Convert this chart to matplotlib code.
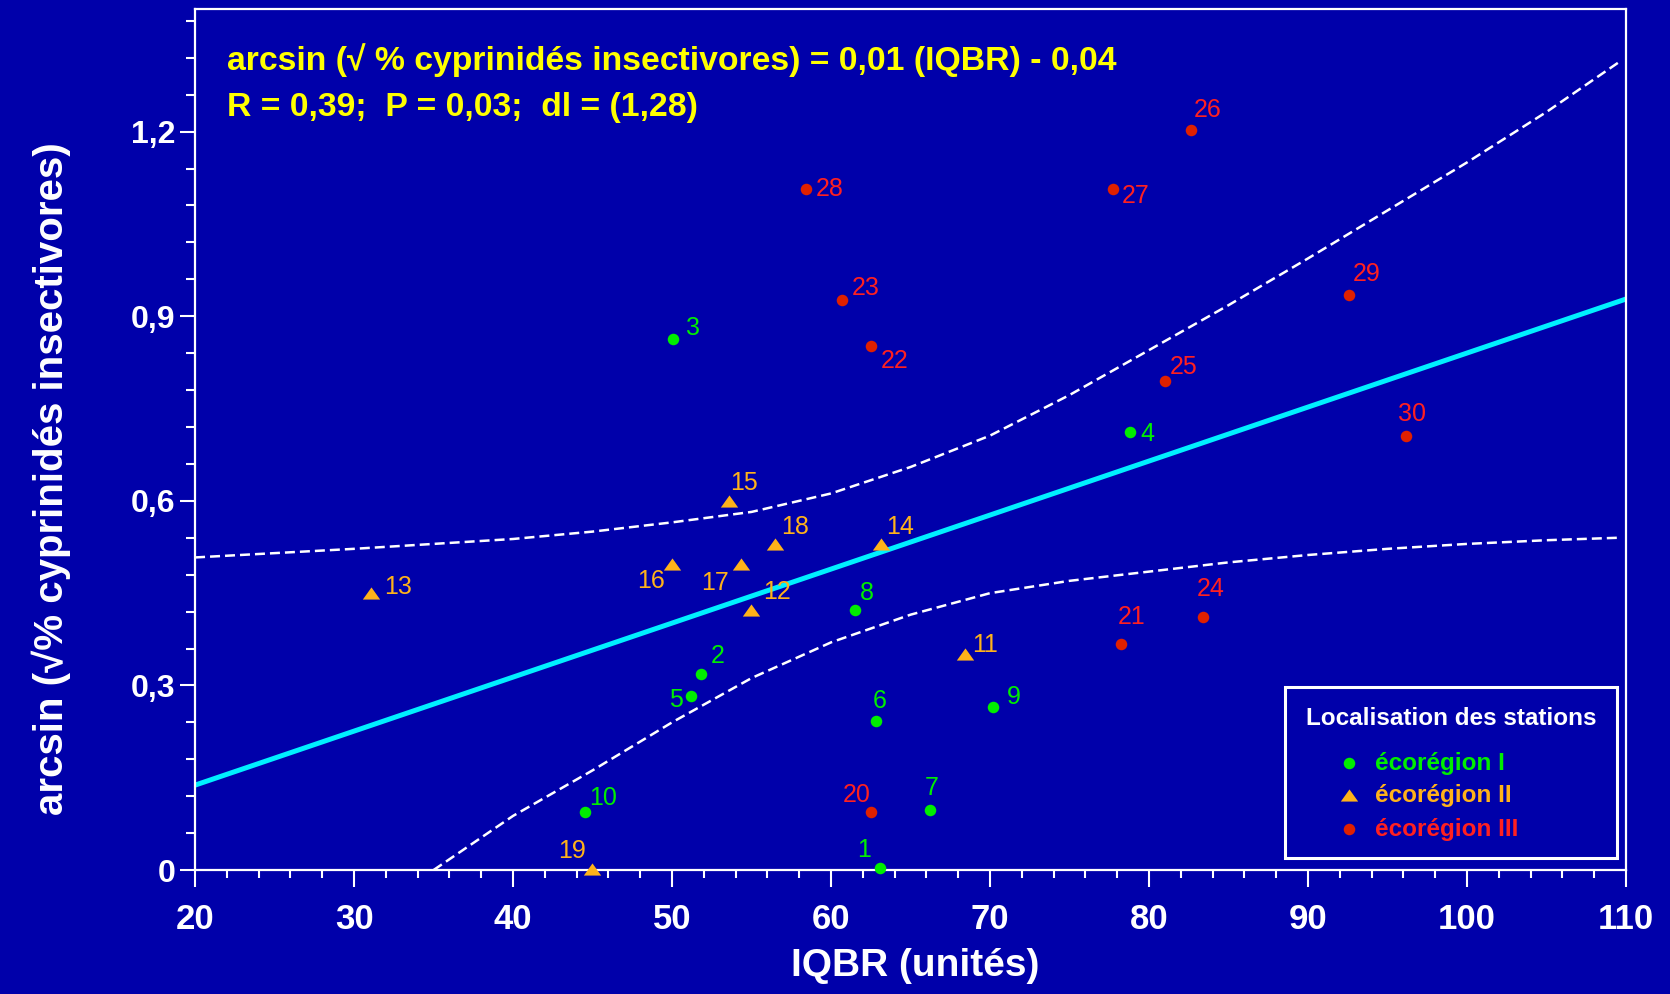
import matplotlib
matplotlib.use("Agg")
import matplotlib.pyplot as plt
from matplotlib.patches import Rectangle

plt.rcParams['font.family'] = ['Liberation Sans', 'DejaVu Sans']

# stations : IQBR et arcsin(racine % cyprinidés insectivores)
station = list(range(1, 31))
iqbr = [63.07, 51.80, 50.07, 78.80, 51.17, 62.82, 66.22, 61.53, 70.16, 44.51,
        68.42, 54.99, 31.05, 63.16, 53.59, 50.00, 54.36, 56.46, 44.95,
        62.51, 78.26, 62.52, 60.71, 83.42, 81.00, 82.61, 77.72, 58.44, 92.59, 96.14]
arcsin_cyp = [0.004, 0.318, 0.863, 0.712, 0.283, 0.243, 0.097, 0.422, 0.265, 0.094,
              0.351, 0.423, 0.451, 0.530, 0.599, 0.497, 0.498, 0.530, 0.002,
              0.094, 0.367, 0.852, 0.927, 0.412, 0.795, 1.202, 1.107, 1.107, 0.934, 0.706]
ecoregion = ['I'] * 10 + ['II'] * 9 + ['III'] * 11

# droite de régression et intervalle de confiance
fit_x = [20, 110]
fit_y = [0.138, 0.928]
band_x = [20, 25, 30, 35, 40, 45, 50, 55, 60, 65, 70, 75, 80, 85, 90, 95, 100, 105, 109.5]
band_up = [0.508, 0.515, 0.522, 0.530, 0.538, 0.550, 0.565, 0.582, 0.612, 0.655,
           0.706, 0.772, 0.845, 0.918, 0.994, 1.072, 1.150, 1.232, 1.312]
low_x = [35, 40, 45, 50, 55, 60, 65, 70, 75, 80, 85, 90, 95, 100, 105, 109.5]
band_low = [0.0, 0.088, 0.162, 0.240, 0.312, 0.370, 0.415, 0.450, 0.470, 0.485,
            0.500, 0.512, 0.522, 0.530, 0.536, 0.540]

xticks = [20, 30, 40, 50, 60, 70, 80, 90, 100, 110]
yticks = [0, 0.3, 0.6, 0.9, 1.2]
ytick_labels = ['0', '0,3', '0,6', '0,9', '1,2']

# position des numéros (pixels, par rapport au point)
label_off = [(-16, 18), (17, 18), (20, 11), (17, -2), (-15, -4), (4, 20), (2, 22),
             (11, 17), (21, 10), (18, 14), (20, 9), (26, 18), (27, 6), (19, 17),
             (15, 18), (-21, -17), (-26, -19), (20, 17), (-20, 18), (-14, 17),
             (10, 27), (23, -15), (23, 12), (7, 28), (19, 14), (17, 20), (23, -7),
             (23, 0), (17, 21), (6, 22)]

bg = '#0000AA'
tri = [(-1, -0.7), (1, -0.7), (0, 0.7)]
styles = {
    'I': dict(marker='o', ms=8.3, mc='#00EE00', tc='#00EE00', name='écorégion I'),
    'II': dict(marker=tri, ms=12.5, mc='#FFB21A', tc='#FFB21A', name='écorégion II'),
    'III': dict(marker='o', ms=8.3, mc='#E02000', tc='#FF2020', name='écorégion III'),
}

fig = plt.figure(figsize=(16.7, 9.94), dpi=100, facecolor=bg)
ax = fig.add_axes([0.1168, 0.1247, 0.8569, 0.8667])
ax.set_facecolor(bg)

ax.plot(band_x, band_up, color='white', lw=1.8, dashes=(4, 2))
ax.plot(low_x, band_low, color='white', lw=1.8, dashes=(4, 2))
ax.plot(fit_x, fit_y, color='#00F0FF', lw=3.6, solid_capstyle='butt')

for i in range(len(station)):
    st = styles[ecoregion[i]]
    ax.plot(iqbr[i], arcsin_cyp[i], linestyle='none', marker=st['marker'],
            ms=st['ms'], color=st['mc'], mec='none', clip_on=False, zorder=4)
    ax.annotate(str(station[i]), (iqbr[i], arcsin_cyp[i]), xytext=label_off[i],
                textcoords='offset pixels', ha='center', va='center',
                color=st['tc'], fontsize=18, zorder=5)

ax.set_xlim(20, 110)
ax.set_ylim(0, 1.4)
ax.set_xticks(xticks)
ax.set_xticks(range(20, 111, 2), minor=True)
ax.set_yticks(yticks)
ax.set_yticklabels(ytick_labels)
ax.set_yticks([i * 0.06 for i in range(24)], minor=True)

for s in ax.spines.values():
    s.set_color('white')
    s.set_linewidth(1.6)
ax.tick_params(axis='x', which='major', direction='out', length=12, width=1.5,
               colors='white', labelsize=25, pad=12)
ax.tick_params(axis='x', which='minor', direction='out', length=6, width=1.5, colors='white')
ax.tick_params(axis='y', which='major', direction='out', length=11, width=1.5,
               colors='white', labelsize=23, pad=3)
ax.tick_params(axis='y', which='minor', direction='out', length=6.5, width=1.5, colors='white')
for t in ax.get_xticklabels() + ax.get_yticklabels():
    t.set_fontweight('bold')

ax.set_xlabel('IQBR (unités)', color='white', fontsize=28, fontweight='bold')
ax.xaxis.set_label_coords(0.503, -0.09)
ax.set_ylabel('arcsin (√% cyprinidés insectivores)', color='white', fontsize=29,
              fontweight='bold')
ax.yaxis.set_label_coords(-0.087, 0.454)

ax.text(0.0224, 0.9400, 'arcsin (√ % cyprinidés insectivores) = 0,01 (IQBR) - 0,04',
        transform=ax.transAxes, color='#FFFF00', fontsize=24.3, fontweight='bold',
        ha='left', va='center')
ax.text(0.0224, 0.8855, 'R = 0,39;  P = 0,03;  dl = (1,28)',
        transform=ax.transAxes, color='#FFFF00', fontsize=24.3, fontweight='bold',
        ha='left', va='center')

# légende
ax.add_patch(Rectangle((0.7617, 0.0139), 0.232, 0.1985, transform=ax.transAxes,
                       fill=False, ec='white', lw=2.2, zorder=6))
ax.text(0.8777, 0.1764, 'Localisation des stations', transform=ax.transAxes,
        color='white', fontsize=17.5, fontweight='bold', ha='center', va='center', zorder=7)
for k, yy in zip(['I', 'II', 'III'], [0.1242, 0.0871, 0.0476]):
    st = styles[k]
    ax.plot(0.8064, yy, transform=ax.transAxes, linestyle='none', marker=st['marker'],
            ms=st['ms'], color=st['mc'], mec='none', zorder=7)
    ax.text(0.8246, yy, st['name'], transform=ax.transAxes, color=st['tc'],
            fontsize=17.5, fontweight='bold', ha='left', va='center', zorder=7)

fig.savefig('out.png', dpi=100, facecolor=bg)
